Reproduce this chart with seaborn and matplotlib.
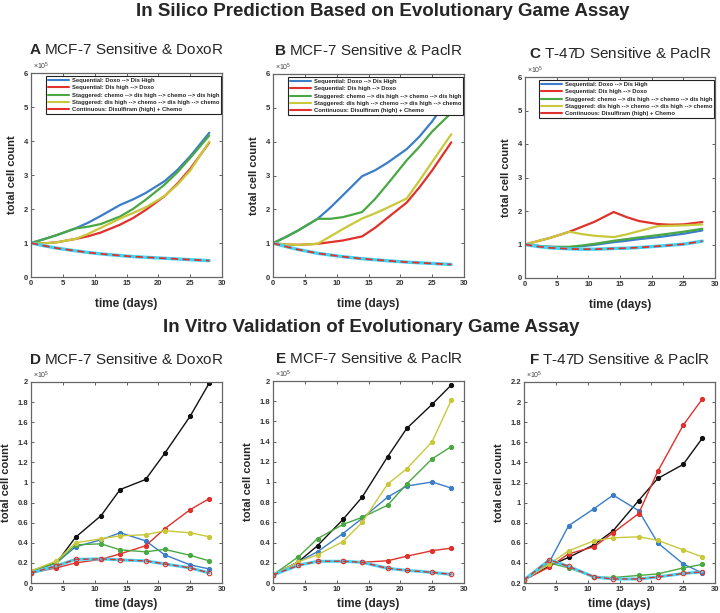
import matplotlib
matplotlib.use("Agg")
import matplotlib.pyplot as plt
import seaborn as sns
import pandas as pd
from matplotlib.lines import Line2D
from matplotlib.ticker import FuncFormatter, MultipleLocator

sns.set_style("ticks")
plt.rcParams['font.family'] = ['Liberation Sans', 'DejaVu Sans']
plt.rcParams['mathtext.fontset'] = 'custom'
plt.rcParams['mathtext.rm'] = 'Liberation Sans'
plt.rcParams['mathtext.bf'] = 'Liberation Sans:bold'

# ---------------- data (units of 1e5 cells) ----------------
labels = ["Sequential: Doxo --> Dis High",
          "Sequential: Dis high --> Doxo",
          "Staggered: chemo --> dis high --> chemo --> dis high",
          "Staggered: dis high --> chemo --> dis high --> chemo",
          "Continuous: Disulfiram (high) + Chemo"]

sim_days = [0, 2, 4, 7, 9, 11, 14, 16, 18, 21, 23, 25, 28]

A_seq_doxo = [1.0, 1.11, 1.23, 1.43, 1.6, 1.8, 2.12, 2.28, 2.47, 2.82, 3.15, 3.55, 4.24]
A_seq_dis = [1.0, 0.99, 1.02, 1.12, 1.2, 1.31, 1.54, 1.73, 1.97, 2.38, 2.75, 3.18, 3.95]
A_stag_chemo = [1.0, 1.11, 1.23, 1.43, 1.48, 1.56, 1.78, 2.0, 2.27, 2.72, 3.08, 3.5, 4.16]
A_stag_dis = [1.0, 0.99, 1.02, 1.12, 1.27, 1.45, 1.72, 1.88, 2.05, 2.38, 2.72, 3.13, 3.98]
A_cont = [1.0, 0.92, 0.85, 0.77, 0.72, 0.68, 0.63, 0.6, 0.58, 0.55, 0.53, 0.51, 0.48]

B_seq_doxo = [1.0, 1.18, 1.38, 1.72, 2.05, 2.42, 2.98, 3.15, 3.38, 3.78, 4.15, 4.6, 5.4]
B_seq_dis = [1.0, 0.96, 0.95, 0.98, 1.03, 1.08, 1.2, 1.45, 1.75, 2.2, 2.65, 3.15, 3.98]
B_stag_chemo = [1.0, 1.18, 1.38, 1.72, 1.72, 1.77, 1.92, 2.3, 2.75, 3.45, 3.85, 4.3, 4.85]
B_stag_dis = [1.0, 0.96, 0.95, 0.98, 1.2, 1.42, 1.73, 1.88, 2.05, 2.32, 2.85, 3.4, 4.22]
B_cont = [1.0, 0.9, 0.81, 0.7, 0.65, 0.6, 0.54, 0.51, 0.48, 0.44, 0.42, 0.4, 0.37]

C_seq_doxo = [1.0, 0.96, 0.93, 0.92, 0.95, 0.99, 1.07, 1.11, 1.16, 1.22, 1.27, 1.32, 1.42]
C_seq_dis = [1.0, 1.1, 1.2, 1.38, 1.53, 1.68, 1.97, 1.82, 1.7, 1.61, 1.59, 1.6, 1.67]
C_stag_chemo = [1.0, 0.96, 0.93, 0.93, 0.97, 1.02, 1.11, 1.16, 1.21, 1.28, 1.33, 1.38, 1.47]
C_stag_dis = [1.0, 1.1, 1.2, 1.38, 1.31, 1.26, 1.22, 1.3, 1.4, 1.55, 1.56, 1.57, 1.6]
C_cont = [1.0, 0.94, 0.9, 0.87, 0.86, 0.86, 0.88, 0.89, 0.91, 0.95, 0.98, 1.01, 1.1]

vitro_days = [0, 4, 7, 11, 14, 18, 21, 25, 28]

D_control = [0.12, 0.2, 0.455, 0.67, 0.93, 1.03, 1.29, 1.66, 1.99]
D_seq_doxo = [0.12, 0.2, 0.36, 0.43, 0.5, 0.42, 0.28, 0.18, 0.14]
D_seq_dis = [0.1, 0.15, 0.2, 0.235, 0.29, 0.37, 0.54, 0.73, 0.84]
D_stag_chemo = [0.12, 0.2, 0.38, 0.39, 0.33, 0.31, 0.335, 0.275, 0.22]
D_stag_dis = [0.12, 0.22, 0.4, 0.44, 0.47, 0.48, 0.52, 0.5, 0.46]
D_cont = [0.1, 0.17, 0.235, 0.24, 0.23, 0.22, 0.19, 0.15, 0.1]

E_control = [0.08, 0.21, 0.37, 0.63, 0.85, 1.25, 1.53, 1.77, 1.96]
E_seq_doxo = [0.08, 0.21, 0.31, 0.49, 0.64, 0.85, 0.96, 1.0, 0.94]
E_seq_dis = [0.08, 0.18, 0.215, 0.215, 0.205, 0.22, 0.265, 0.32, 0.345]
E_stag_chemo = [0.08, 0.26, 0.44, 0.58, 0.65, 0.77, 0.98, 1.23, 1.35]
E_stag_dis = [0.08, 0.21, 0.28, 0.41, 0.6, 0.98, 1.13, 1.4, 1.81]
E_cont = [0.08, 0.175, 0.215, 0.215, 0.205, 0.145, 0.125, 0.105, 0.085]

F_control = [0.23, 0.37, 0.455, 0.58, 0.72, 1.02, 1.24, 1.38, 1.64]
F_seq_doxo = [0.23, 0.41, 0.77, 0.94, 1.075, 0.92, 0.6, 0.39, 0.3]
F_seq_dis = [0.23, 0.36, 0.49, 0.56, 0.7, 0.89, 1.31, 1.77, 2.03]
F_stag_chemo = [0.23, 0.4, 0.35, 0.26, 0.255, 0.275, 0.29, 0.35, 0.385]
F_stag_dis = [0.23, 0.39, 0.52, 0.62, 0.65, 0.66, 0.625, 0.53, 0.46]
F_cont = [0.23, 0.43, 0.365, 0.26, 0.24, 0.24, 0.26, 0.295, 0.31]

top_titles = ["A", "MCF-7 Sensitive & DoxoR"], ["B", "MCF-7 Sensitive & PaclR"], ["C", "T-47D Sensitive & PaclR"]
bot_titles = ["D", "MCF-7 Sensitive & DoxoR"], ["E", "MCF-7 Sensitive & PaclR"], ["F", "T-47D Sensitive & PaclR"]

# ---------------- style ----------------
BLUE = "#3a7dc9"
RED = "#e0312c"
GREEN = "#4aa843"
YELLOW = "#c9c83a"
CYAN = "#3dd6f7"
BLACK = "#111111"
cols = [BLUE, RED, GREEN, YELLOW]

W, H = 720, 613
fig = plt.figure(figsize=(7.2, 6.13), dpi=100)


def ax_at(l, t, r, b):
    return fig.add_axes([l / W, 1 - b / H, (r - l) / W, (b - t) / H])


fmt = FuncFormatter(lambda v, p: "%g" % round(v, 6))


def style(ax, ymin, ymax, ystep, xpad):
    ax.set_xlim(0, 30)
    ax.set_ylim(ymin, ymax)
    ax.xaxis.set_major_locator(MultipleLocator(5))
    ax.yaxis.set_major_locator(MultipleLocator(ystep))
    ax.xaxis.set_major_formatter(fmt)
    ax.yaxis.set_major_formatter(fmt)
    ax.tick_params(direction="in", length=2, width=0.6, labelsize=5.5,
                   colors="#444444", labelcolor="#333333", pad=2,
                   top=True, right=True)
    for lab in ax.get_xticklabels() + ax.get_yticklabels():
        lab.set_fontweight("bold")
    for s in ax.spines.values():
        s.set_color("#666666")
        s.set_linewidth(0.9)
        s.set_visible(True)
    ax.set_xlabel("time (days)", fontsize=8.5, fontweight="bold", labelpad=xpad)
    ax.set_ylabel("total cell count", fontsize=8, fontweight="bold", labelpad=5)
    ax.text(0.01, 1.003, r"$\times 10^5$", transform=ax.transAxes,
            fontsize=5, color="#444444", va="bottom", ha="left")


def set_title(ax, parts, pad):
    ax.set_title(r"$\mathbf{%s}$ %s" % (parts[0], parts[1]), fontsize=11, pad=pad)


# ---------------- top row: simulations ----------------
top_axes = [ax_at(31, 73, 222, 277), ax_at(273, 74, 464, 277), ax_at(525, 77, 715, 278)]
top_data = [
    [A_seq_doxo, A_seq_dis, A_stag_chemo, A_stag_dis, A_cont],
    [B_seq_doxo, B_seq_dis, B_stag_chemo, B_stag_dis, B_cont],
    [C_seq_doxo, C_seq_dis, C_stag_chemo, C_stag_dis, C_cont],
]
for ax, series, tt in zip(top_axes, top_data, top_titles):
    for c, s in zip(cols, series[:4]):
        sns.lineplot(x=sim_days, y=s, color=c, lw=1.6, ax=ax)
    sns.lineplot(x=sim_days, y=series[4], color=CYAN, lw=2.4, ax=ax)
    sns.lineplot(x=sim_days, y=series[4], color=RED, lw=1.3, ax=ax,
                 linestyle=(0, (4, 2.5)))
    style(ax, 0, 6, 1, 8)
    set_title(ax, tt, 14)
    handles = [Line2D([], [], color=c, lw=1.5) for c in cols + [RED]]
    leg = ax.legend(handles, labels, loc="upper right", bbox_to_anchor=(0.995, 0.985),
                    prop={"weight": "bold", "size": 4.2},
                    frameon=True, fancybox=False, framealpha=1, edgecolor="#222222",
                    handlelength=3.6, handletextpad=0.5, borderpad=0.35,
                    labelspacing=0.38, borderaxespad=0)
    leg.get_frame().set_linewidth(0.8)
    leg.set_zorder(10)

# ---------------- bottom row: in vitro ----------------
bot_axes = [ax_at(31, 382, 222, 583), ax_at(273, 381, 464, 583), ax_at(524, 382, 715, 583)]
bot_data = [
    [D_control, D_seq_doxo, D_seq_dis, D_stag_chemo, D_stag_dis, D_cont],
    [E_control, E_seq_doxo, E_seq_dis, E_stag_chemo, E_stag_dis, E_cont],
    [F_control, F_seq_doxo, F_seq_dis, F_stag_chemo, F_stag_dis, F_cont],
]
ylims = [(0, 2, 0.2), (0, 2, 0.2), (0.2, 2.2, 0.2)]
for ax, series, tt, yl in zip(bot_axes, bot_data, bot_titles, ylims):
    for c, s in zip([BLACK] + cols, series[:5]):
        sns.lineplot(x=vitro_days, y=s, color=c, lw=1.0, marker="o", ms=3,
                     mec=c, mfc=c, ax=ax)
    sns.lineplot(x=vitro_days, y=series[5], color=CYAN, lw=2.2, ax=ax)
    sns.lineplot(x=vitro_days, y=series[5], color=RED, lw=1.0, ax=ax,
                 linestyle=(0, (4, 2.5)), marker="o", ms=3.2, mfc="none",
                 mec=RED, mew=0.8)
    style(ax, *yl, 4)
    set_title(ax, tt, 13)

fig.text(0.532, 0.981, "In Silico Prediction Based on Evolutionary Game Assay",
         ha="center", va="center", fontsize=13.5, fontweight="bold",
         family=["Liberation Sans Narrow", "Liberation Sans", "DejaVu Sans"])
fig.text(0.515, 0.465, "In Vitro Validation of Evolutionary Game Assay",
         ha="center", va="center", fontsize=13.5, fontweight="bold",
         family=["Liberation Sans Narrow", "Liberation Sans", "DejaVu Sans"])

fig.savefig("out.png", dpi=100)
